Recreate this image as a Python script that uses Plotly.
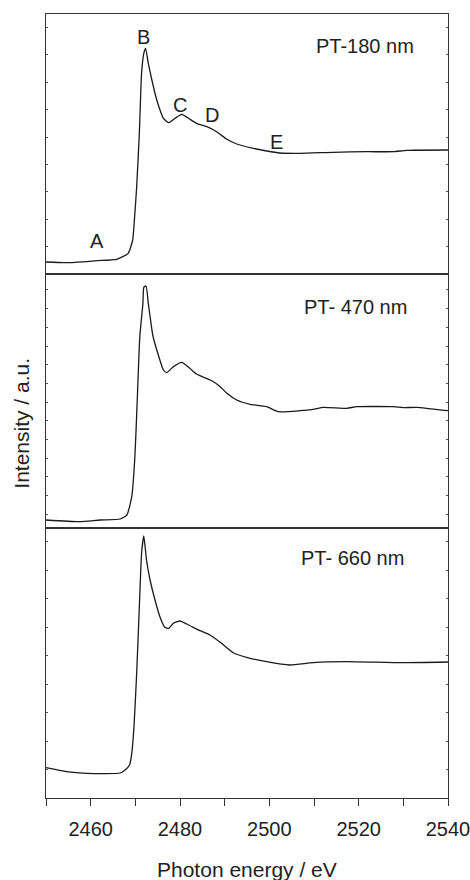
import plotly.graph_objects as go

# ---------------- data (photon energy in eV, intensity in a.u.) ----------------
energy_180 = [2450, 2454.6, 2461.4, 2465.8, 2468.4, 2469.4, 2469.9, 2470.3, 2470.9, 2471.4,
              2471.9, 2472.3, 2472.9, 2473.7, 2474.8, 2476.3, 2477.5, 2478.9, 2480.4, 2481.9,
              2483.7, 2486.0, 2488.2, 2490.5, 2492.7, 2496.4, 2499.4, 2502.4, 2506.9, 2514.3,
              2521.8, 2527.8, 2530.8, 2540]
intensity_180 = [12, 11.3, 13.3, 14.7, 20.7, 34, 61, 87, 141, 201,
                 220.7, 225.7, 210.7, 194, 174, 155.7, 151.3, 155.7, 159.7, 155.7,
                 150.7, 147.3, 142.3, 134.7, 130, 125.7, 123, 121, 120.7, 121.7,
                 122.3, 122.3, 123.7, 124]

energy_470 = [2450, 2457.6, 2462.1, 2466.6, 2468.1, 2469.2, 2469.9, 2470.4, 2471.0, 2471.7,
              2471.9, 2472.4, 2472.9, 2473.9, 2474.8, 2476.3, 2477.0, 2478.5, 2480.4, 2482.2,
              2483.7, 2487.5, 2489.0, 2490.5, 2492.7, 2495.7, 2499.4, 2502.0, 2506.9, 2509.8,
              2512.1, 2517.3, 2519.6, 2527.8, 2530.0, 2533.0, 2540]
intensity_470 = [8, 6.3, 8, 9, 13, 31.3, 71.3, 124.7, 191.3, 224.7,
                 240.7, 242, 224.7, 193, 178, 158, 155.3, 161.3, 165.7, 159.7,
                 154, 146.3, 141.3, 134.7, 128, 123.7, 121.3, 116.3, 117.3, 118.7,
                 120.7, 119.7, 121.3, 121.3, 120.3, 120.7, 117.3]

energy_660 = [2450, 2454.6, 2459.1, 2466.6, 2467.7, 2468.7, 2469.2, 2469.7, 2470.3, 2470.9,
              2471.4, 2471.9, 2472.5, 2473.3, 2474.4, 2475.5, 2476.6, 2477.5, 2478.5, 2480.0,
              2481.5, 2484.5, 2486.7, 2489.0, 2491.9, 2494.9, 2499.4, 2504.6, 2509.8, 2517.3,
              2529.3, 2540]
intensity_660 = [30.3, 26.3, 24.7, 25, 28, 33, 44.7, 71.3, 124.7, 191.3,
                 244.7, 262, 238, 218, 198, 181.3, 170.7, 169.7, 174.7, 177,
                 174, 167.3, 163, 155.7, 145.3, 140.7, 136.3, 133, 135.3, 136.3,
                 135.3, 136]

panel_labels = ["PT-180 nm", "PT- 470 nm", "PT- 660 nm"]
label_energy = [2521.4, 2519.4, 2518.7]
label_intensity = [228.3, 221.3, 239.7]

feature_letters = ["A", "B", "C", "D", "E"]
feature_energy = [2461.5, 2471.9, 2480.0, 2487.2, 2501.6]
feature_intensity = [33.3, 237.3, 169, 159, 132.3]

x_range = [2450, 2540.001]
y_ranges = [[0, 260], [0, 254], [0, 270]]
x_tick_values = [2460, 2480, 2500, 2520, 2540]
x_tick_labels = ["2460", "2480", "2500", "2520", "2540"]

# ---------------- figure ----------------
FONT = "Liberation Sans, Arial, Helvetica, sans-serif"
AX_COLOR = "#333333"
LINE_COLOR = "#1a1a1a"
TXT = "#222222"

fig = go.Figure()
series = [(energy_180, intensity_180), (energy_470, intensity_470), (energy_660, intensity_660)]
for i, (ex, iy) in enumerate(series):
    suffix = "" if i == 0 else str(i + 1)
    fig.add_trace(go.Scatter(x=ex, y=iy, mode="lines",
                             line=dict(color=LINE_COLOR, width=1.3, shape="spline", smoothing=0.5),
                             xaxis="x" + suffix, yaxis="y" + suffix, showlegend=False,
                             hoverinfo="skip"))

plot_h = 784.0
h1, h2, h3 = 260, 254, 270
d3 = [0, h3 / plot_h]
d2 = [h3 / plot_h, (h3 + h2) / plot_h]
d1 = [(h3 + h2) / plot_h, 1]

y_common = dict(showline=True, linecolor=AX_COLOR, linewidth=1.2, mirror="ticks",
                ticks="inside", ticklen=2, tickwidth=1.2, tickcolor="#555555",
                showticklabels=False, showgrid=False, zeroline=False, fixedrange=True,
                automargin=False)
x_common = dict(range=x_range, showline=True, linecolor=AX_COLOR, linewidth=1.2,
                mirror=True, showgrid=False, zeroline=False, fixedrange=True,
                automargin=False)

fig.update_layout(
    width=470, height=880,
    margin=dict(l=46, r=22, t=14, b=82, autoexpand=False),
    paper_bgcolor="white", plot_bgcolor="white",
    font=dict(family=FONT, color=TXT),
    xaxis=dict(x_common, anchor="y", domain=[0, 1], ticks="", showticklabels=False),
    xaxis2=dict(x_common, anchor="y2", domain=[0, 1], ticks="", showticklabels=False,
                matches="x"),
    xaxis3=dict(x_common, anchor="y3", domain=[0, 1], matches="x",
                tickmode="array", tickvals=x_tick_values, ticktext=x_tick_labels,
                ticks="outside", ticklen=7, tickwidth=1.3, tickcolor=AX_COLOR,
                ticklabelstandoff=6, ticklabeloverflow="allow",
                minor=dict(dtick=10, tick0=2450, ticks="outside", ticklen=7,
                           tickwidth=1.3, tickcolor=AX_COLOR),
                tickfont=dict(size=20, family=FONT, color=TXT)),
    yaxis=dict(y_common, domain=d1, range=y_ranges[0], anchor="x", tick0=0, dtick=27.4),
    yaxis2=dict(y_common, domain=d2, range=y_ranges[1], anchor="x2", tick0=13.7, dtick=18.7),
    yaxis3=dict(y_common, domain=d3, range=y_ranges[2], anchor="x3", tick0=0, dtick=28.5),
)

annotations = []
yrefs = ["y", "y2", "y3"]
xrefs = ["x", "x2", "x3"]
for i in range(3):
    annotations.append(dict(text=panel_labels[i], x=label_energy[i], y=label_intensity[i],
                            xref=xrefs[i], yref=yrefs[i], showarrow=False,
                            xanchor="center", yanchor="middle",
                            font=dict(size=20, family=FONT, color=TXT)))
for j in range(len(feature_letters)):
    annotations.append(dict(text=feature_letters[j], x=feature_energy[j], y=feature_intensity[j],
                            xref="x", yref="y", showarrow=False,
                            xanchor="center", yanchor="middle",
                            font=dict(size=20, family=FONT, color=TXT)))
annotations.append(dict(text="Photon energy / eV", x=0.5, y=-71 / plot_h,
                        xref="paper", yref="paper", showarrow=False,
                        xanchor="center", yanchor="middle",
                        font=dict(size=21, family=FONT, color=TXT)))
annotations.append(dict(text="Intensity / a.u.", x=-24.3 / 402, y=(798 - 423) / plot_h,
                        xref="paper", yref="paper", showarrow=False, textangle=-90,
                        xanchor="center", yanchor="middle",
                        font=dict(size=21, family=FONT, color=TXT)))
fig.update_layout(annotations=annotations)

fig.write_html("out.html", config={"displayModeBar": False},
               post_script="document.body.style.margin='0';document.body.style.overflow='hidden';")
